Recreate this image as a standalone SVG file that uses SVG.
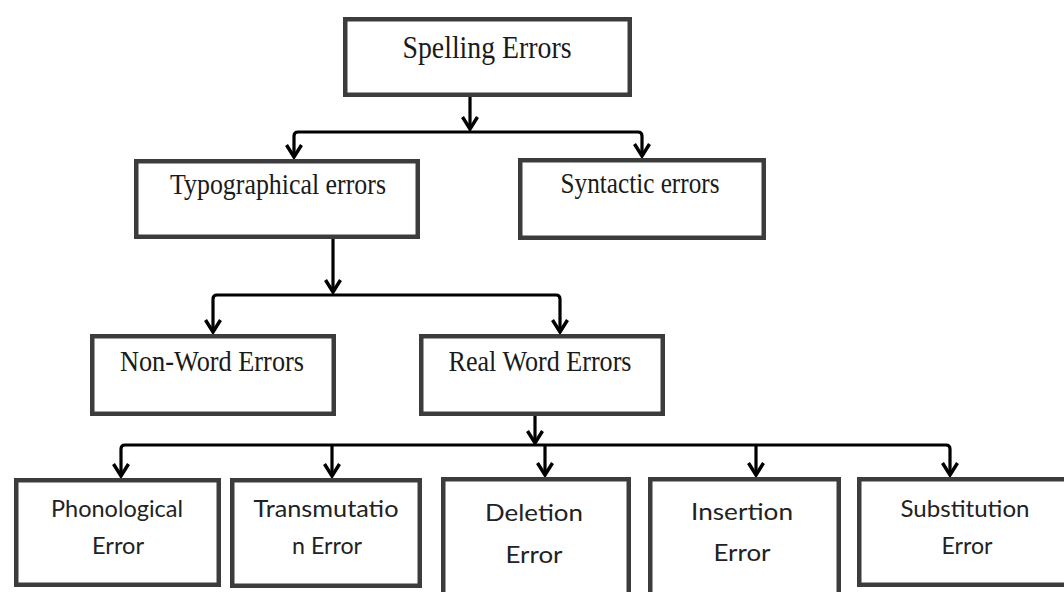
<svg xmlns="http://www.w3.org/2000/svg" width="1064" height="592" viewBox="0 0 1064 592">
  <style>
    .box { fill: #ffffff; stroke: #3c3c3c; stroke-width: 4.5; }
    .conn { fill: none; stroke: #000000; stroke-width: 3.2; marker-end: url(#chev); }
    .serif { font-family: "Liberation Serif", "Times New Roman", serif; fill: #1a1a1a; text-anchor: middle; }
    .sans { font-family: Lato, "Open Sans", "Liberation Sans", sans-serif; fill: #222222; text-anchor: middle; font-size: 23px; }
  </style>
  <defs>
    <!-- open V arrowhead -->
    <marker id="chev" markerUnits="userSpaceOnUse" markerWidth="22" markerHeight="22" viewBox="-15 -11 17 22" refX="0" refY="0" orient="auto">
      <path d="M-12,-7.5 L0,0 L-12,7.5" fill="none" stroke="#000" stroke-width="3.4" stroke-linejoin="miter"/>
    </marker>
  </defs>

  <!-- connectors -->
  <g id="connectors">
    <path class="conn" d="M470,97 V129"/>
    <path class="conn" d="M470,132 H298 Q294,132 294,136 V157"/>
    <path class="conn" d="M470,132 H638 Q642,132 642,136 V156"/>

    <path class="conn" d="M333,239 V292"/>
    <path class="conn" d="M333,295 H217 Q213,295 213,299 V332"/>
    <path class="conn" d="M333,295 H556 Q560,295 560,299 V332"/>

    <path class="conn" d="M535,416 V443"/>
    <path class="conn" d="M535,445 H125 Q121,445 121,449 V476"/>
    <path class="conn" d="M535,445 H946 Q950,445 950,449 V475"/>
    <path class="conn" d="M332,445 V476"/>
    <path class="conn" d="M545,445 V475"/>
    <path class="conn" d="M756,445 V475"/>
  </g>

  <!-- level 0 -->
  <g id="spelling-errors">
    <rect class="box" x="345.25" y="19.25" width="284.5" height="75.5"/>
    <text class="serif" x="487" y="58" font-size="32" textLength="169" lengthAdjust="spacingAndGlyphs">Spelling Errors</text>
  </g>

  <!-- level 1 -->
  <g id="typographical-errors">
    <rect class="box" x="136.25" y="161.25" width="281.5" height="75.5"/>
    <text class="serif" x="278" y="194" font-size="29" textLength="216" lengthAdjust="spacingAndGlyphs">Typographical errors</text>
  </g>
  <g id="syntactic-errors">
    <rect class="box" x="520.25" y="160.25" width="243.5" height="77.5"/>
    <text class="serif" x="640" y="193" font-size="29" textLength="159" lengthAdjust="spacingAndGlyphs">Syntactic errors</text>
  </g>

  <!-- level 2 -->
  <g id="non-word-errors">
    <rect class="box" x="92.25" y="336.25" width="241.5" height="77.5"/>
    <text class="serif" x="212" y="371" font-size="29" textLength="184" lengthAdjust="spacingAndGlyphs">Non-Word Errors</text>
  </g>
  <g id="real-word-errors">
    <rect class="box" x="421.25" y="336.25" width="241.5" height="77.5"/>
    <text class="serif" x="540" y="371" font-size="29" textLength="183" lengthAdjust="spacingAndGlyphs">Real Word Errors</text>
  </g>

  <!-- level 3 -->
  <g id="phonological-error">
    <rect class="box" x="16.25" y="480.25" width="202.5" height="104.5"/>
    <text class="sans" x="117" y="517" textLength="132" lengthAdjust="spacingAndGlyphs">Phonological</text>
    <text class="sans" x="118" y="554" textLength="52" lengthAdjust="spacingAndGlyphs">Error</text>
  </g>
  <g id="transmutation-error">
    <rect class="box" x="232.25" y="480.25" width="187.5" height="105.5"/>
    <text class="sans" x="326" y="517" textLength="145" lengthAdjust="spacingAndGlyphs">Transmutatio</text>
    <text class="sans" x="327" y="554" textLength="70" lengthAdjust="spacingAndGlyphs">n Error</text>
  </g>
  <g id="deletion-error">
    <rect class="box" x="443.25" y="479.25" width="185.5" height="130"/>
    <text class="sans" x="534" y="521" textLength="98" lengthAdjust="spacingAndGlyphs">Deletion</text>
    <text class="sans" x="534" y="563" textLength="57" lengthAdjust="spacingAndGlyphs">Error</text>
  </g>
  <g id="insertion-error">
    <rect class="box" x="650.25" y="479.25" width="188.5" height="130"/>
    <text class="sans" x="742" y="520" textLength="102" lengthAdjust="spacingAndGlyphs">Insertion</text>
    <text class="sans" x="742" y="561" textLength="57" lengthAdjust="spacingAndGlyphs">Error</text>
  </g>
  <g id="substitution-error">
    <rect class="box" x="859.25" y="479.25" width="230" height="105.5"/>
    <text class="sans" x="965" y="517" textLength="129" lengthAdjust="spacingAndGlyphs">Substitution</text>
    <text class="sans" x="967" y="554" textLength="51" lengthAdjust="spacingAndGlyphs">Error</text>
  </g>
</svg>
